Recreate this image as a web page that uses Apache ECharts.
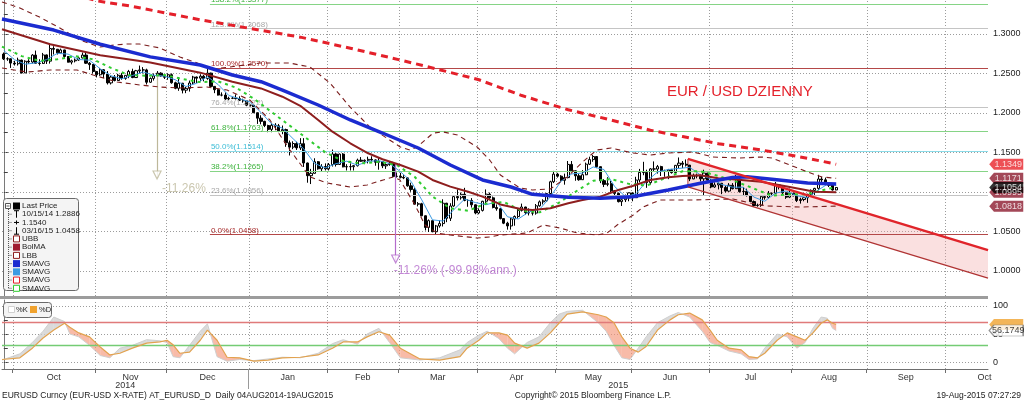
<!DOCTYPE html>
<html><head><meta charset="utf-8"><title>EUR/USD</title>
<script src="https://cdn.jsdelivr.net/npm/echarts@6.0.0/dist/echarts.min.js"></script>
<style>html,body{margin:0;padding:0;background:#fff;overflow:hidden}#chart{width:1024px;height:401px}</style>
</head><body><div id="chart"></div><script>
// ---------- DATA ----------
const firstDay = [2014, 8, 26];   // 26 Sep 2014, first visible trading day
const dayCount = 276;             // weekdays shown on the axis
const monthNames = ['Jan','Feb','Mar','Apr','May','Jun','Jul','Aug','Sep','Oct','Nov','Dec'];
const yearLabels = ['2014','2015'];

const priceOpen = [1.2745,1.2685,1.2686,1.2631,1.2623,1.2670,1.2507,1.2655,1.2645,1.2733,
1.2629,1.2627,1.2735,1.2656,1.2816,1.2807,1.2761,1.2798,1.2715,1.2643,
1.2660,1.2670,1.2697,1.2733,1.2630,1.2612,1.2525,1.2483,1.2547,1.2492,
1.2380,1.2454,1.2410,1.2477,1.2437,1.2476,1.2525,1.2448,1.2534,1.2545,
1.2545,1.2389,1.2437,1.2469,1.2504,1.2469,1.2452,1.2484,1.2382,1.2312,
1.2376,1.2288,1.2311,1.2379,1.2455,1.2440,1.2465,1.2437,1.2504,1.2336,
1.2294,1.2226,1.2226,1.2176,1.2185,1.2187,1.2181,1.2160,1.2153,1.2098,
1.2098,1.2002,1.1933,1.1893,1.1840,1.1791,1.1843,1.1836,1.1772,1.1788,
1.1621,1.1566,1.1612,1.1556,1.1610,1.1365,1.1204,1.1234,1.1381,1.1291,
1.1320,1.1291,1.1345,1.1479,1.1346,1.1478,1.1316,1.1319,1.1318,1.1331,
1.1401,1.1388,1.1399,1.1411,1.1404,1.1375,1.1383,1.1329,1.1345,1.1360,
1.1195,1.1196,1.1183,1.1176,1.1075,1.1030,1.0843,1.0848,1.0696,1.0548,
1.0634,1.0494,1.0567,1.0597,1.0855,1.0664,1.0820,1.0939,1.0924,1.0968,
1.0890,1.0890,1.0835,1.0731,1.0764,1.0880,1.0970,1.0923,1.0801,1.0785,
1.0660,1.0602,1.0567,1.0656,1.0687,1.0764,1.0807,1.0736,1.0732,1.0730,
1.0822,1.0872,1.0885,1.0978,1.1127,1.1224,1.1198,1.1145,1.1180,1.1347,
1.1266,1.1202,1.1153,1.1216,1.1350,1.1408,1.1447,1.1318,1.1141,1.1094,
1.1103,1.1013,1.0980,1.0875,1.0899,1.0922,1.0986,1.0925,1.1149,1.1245,
1.1244,1.1116,1.1290,1.1288,1.1319,1.1260,1.1262,1.1279,1.1243,1.1335,
1.1363,1.1349,1.1338,1.1163,1.1200,1.1201,1.1164,1.1237,1.1147,1.1061,
1.1087,1.1108,1.1055,1.1009,1.1083,1.1039,1.1160,1.1002,1.1005,1.0952,
1.0876,1.0826,1.0829,1.0938,1.0929,1.0980,1.0981,1.1087,1.1062,1.0987,
1.0932,1.0982,1.0954,1.0889,1.0902,1.0925,1.0967,1.1018,1.1043,1.1162,
1.1151,1.1106,1.1083,1.1023];
const priceHigh = [1.2765,1.2705,1.2690,1.2660,1.2700,1.2675,1.2667,1.2680,1.2745,1.2790,
1.2680,1.2760,1.2740,1.2886,1.2845,1.2810,1.2815,1.2800,1.2720,1.2675,
1.2690,1.2710,1.2765,1.2770,1.2645,1.2620,1.2530,1.2570,1.2555,1.2530,
1.2470,1.2480,1.2495,1.2505,1.2480,1.2545,1.2560,1.2545,1.2600,1.2580,
1.2560,1.2450,1.2500,1.2530,1.2515,1.2490,1.2500,1.2500,1.2395,1.2455,
1.2380,1.2330,1.2410,1.2470,1.2460,1.2490,1.2480,1.2570,1.2510,1.2340,
1.2300,1.2260,1.2260,1.2205,1.2200,1.2235,1.2210,1.2180,1.2160,1.2110,
1.2100,1.2005,1.1970,1.1900,1.1850,1.1870,1.1870,1.1860,1.1840,1.1800,
1.1650,1.1640,1.1635,1.1680,1.1680,1.1370,1.1290,1.1425,1.1390,1.1350,
1.1360,1.1365,1.1535,1.1490,1.1485,1.1490,1.1350,1.1360,1.1340,1.1420,
1.1440,1.1410,1.1445,1.1450,1.1410,1.1430,1.1390,1.1370,1.1390,1.1380,
1.1245,1.1240,1.1210,1.1185,1.1115,1.1050,1.0870,1.0860,1.0700,1.0650,
1.0640,1.0580,1.0640,1.0905,1.0860,1.0855,1.0950,1.1030,1.0990,1.1050,
1.0905,1.0920,1.0840,1.0790,1.0885,1.1030,1.0990,1.0940,1.0840,1.0790,
1.0665,1.0620,1.0670,1.0700,1.0790,1.0850,1.0810,1.0790,1.0770,1.0845,
1.0890,1.0905,1.0985,1.1140,1.1265,1.1240,1.1210,1.1230,1.1390,1.1390,
1.1270,1.1230,1.1275,1.1370,1.1445,1.1467,1.1450,1.1320,1.1160,1.1185,
1.1140,1.1020,1.0990,1.0905,1.0965,1.0990,1.0990,1.1190,1.1290,1.1380,
1.1280,1.1300,1.1385,1.1340,1.1330,1.1280,1.1290,1.1290,1.1340,1.1435,
1.1390,1.1410,1.1340,1.1230,1.1230,1.1220,1.1280,1.1240,1.1160,1.1120,
1.1120,1.1110,1.1080,1.1110,1.1110,1.1215,1.1170,1.1060,1.1040,1.0960,
1.0890,1.0850,1.0945,1.0960,1.1010,1.0990,1.1125,1.1090,1.1070,1.0990,
1.1040,1.0990,1.0960,1.0925,1.0930,1.0975,1.1030,1.1050,1.1215,1.1190,
1.1180,1.1115,1.1090,1.1060];
const priceLow = [1.2670,1.2660,1.2570,1.2600,1.2600,1.2500,1.2505,1.2620,1.2625,1.2620,
1.2600,1.2620,1.2620,1.2625,1.2740,1.2740,1.2750,1.2690,1.2640,1.2615,
1.2640,1.2660,1.2690,1.2620,1.2545,1.2500,1.2450,1.2470,1.2440,1.2360,
1.2360,1.2400,1.2405,1.2420,1.2420,1.2440,1.2440,1.2445,1.2500,1.2500,
1.2360,1.2380,1.2410,1.2450,1.2460,1.2430,1.2420,1.2370,1.2300,1.2280,
1.2247,1.2250,1.2270,1.2360,1.2380,1.2400,1.2400,1.2420,1.2330,1.2250,
1.2220,1.2210,1.2165,1.2160,1.2175,1.2170,1.2150,1.2130,1.2085,1.2080,
1.2000,1.1860,1.1855,1.1820,1.1755,1.1755,1.1780,1.1755,1.1730,1.1570,
1.1460,1.1540,1.1530,1.1530,1.1315,1.1115,1.1098,1.1230,1.1280,1.1260,
1.1270,1.1270,1.1320,1.1320,1.1340,1.1310,1.1270,1.1270,1.1270,1.1320,
1.1380,1.1350,1.1360,1.1385,1.1330,1.1280,1.1300,1.1290,1.1330,1.1185,
1.1180,1.1170,1.1160,1.1065,1.1000,1.0840,1.0815,1.0690,1.0510,1.0490,
1.0487,1.0458,1.0545,1.0560,1.0615,1.0630,1.0810,1.0890,1.0900,1.0880,
1.0810,1.0800,1.0715,1.0715,1.0750,1.0840,1.0910,1.0790,1.0760,1.0650,
1.0590,1.0520,1.0520,1.0570,1.0660,1.0750,1.0710,1.0700,1.0700,1.0710,
1.0810,1.0840,1.0870,1.0970,1.1110,1.1180,1.1130,1.1090,1.1170,1.1250,
1.1140,1.1140,1.1150,1.1210,1.1340,1.1380,1.1300,1.1110,1.1060,1.1070,
1.0990,1.0950,1.0865,1.0820,1.0870,1.0880,1.0880,1.0920,1.1120,1.1210,
1.1050,1.1090,1.1260,1.1230,1.1200,1.1190,1.1160,1.1230,1.1215,1.1300,
1.1300,1.1320,1.1135,1.1160,1.1170,1.1130,1.0955,1.1120,1.1045,1.1050,
1.1030,1.0970,1.0990,1.1000,1.1030,1.1035,1.0990,1.0950,1.0940,1.0870,
1.0810,1.0810,1.0810,1.0900,1.0910,1.0945,1.0970,1.1030,1.0960,1.0910,
1.0920,1.0940,1.0870,1.0850,1.0880,1.0860,1.0950,1.0960,1.1020,1.1120,
1.1090,1.1060,1.1015,1.1020];
const priceClose = [1.2685,1.2686,1.2631,1.2623,1.2670,1.2507,1.2655,1.2645,1.2733,1.2629,
1.2627,1.2735,1.2656,1.2816,1.2807,1.2761,1.2798,1.2715,1.2643,1.2660,
1.2670,1.2697,1.2733,1.2630,1.2612,1.2525,1.2483,1.2547,1.2492,1.2380,
1.2454,1.2410,1.2477,1.2437,1.2476,1.2525,1.2448,1.2534,1.2545,1.2545,
1.2389,1.2437,1.2469,1.2504,1.2469,1.2452,1.2484,1.2382,1.2312,1.2376,
1.2288,1.2311,1.2379,1.2455,1.2440,1.2465,1.2437,1.2504,1.2336,1.2294,
1.2226,1.2226,1.2176,1.2185,1.2187,1.2181,1.2160,1.2153,1.2098,1.2098,
1.2002,1.1933,1.1893,1.1840,1.1791,1.1843,1.1836,1.1772,1.1788,1.1621,
1.1566,1.1612,1.1556,1.1610,1.1365,1.1204,1.1234,1.1381,1.1291,1.1320,
1.1291,1.1345,1.1479,1.1346,1.1478,1.1316,1.1319,1.1318,1.1331,1.1401,
1.1388,1.1399,1.1411,1.1404,1.1375,1.1383,1.1329,1.1345,1.1360,1.1195,
1.1196,1.1183,1.1176,1.1075,1.1030,1.0843,1.0848,1.0696,1.0548,1.0634,
1.0494,1.0567,1.0597,1.0855,1.0664,1.0820,1.0939,1.0924,1.0968,1.0890,
1.0890,1.0835,1.0731,1.0764,1.0880,1.0970,1.0923,1.0801,1.0785,1.0660,
1.0602,1.0567,1.0656,1.0687,1.0764,1.0807,1.0736,1.0732,1.0730,1.0822,
1.0872,1.0885,1.0978,1.1127,1.1224,1.1198,1.1145,1.1180,1.1347,1.1266,
1.1202,1.1153,1.1216,1.1350,1.1408,1.1447,1.1318,1.1141,1.1094,1.1103,
1.1013,1.0980,1.0875,1.0899,1.0922,1.0986,1.0925,1.1149,1.1245,1.1244,
1.1116,1.1290,1.1288,1.1319,1.1260,1.1262,1.1279,1.1243,1.1335,1.1363,
1.1349,1.1338,1.1163,1.1200,1.1201,1.1164,1.1237,1.1147,1.1061,1.1087,
1.1108,1.1055,1.1009,1.1083,1.1039,1.1160,1.1002,1.1005,1.0952,1.0876,
1.0826,1.0829,1.0938,1.0929,1.0980,1.0981,1.1087,1.1062,1.0987,1.0932,
1.0982,1.0954,1.0889,1.0902,1.0925,1.0967,1.1018,1.1043,1.1162,1.1151,
1.1106,1.1083,1.1023,1.1054];

// indicator lines: [trading-day index, value]
const sma200 = [[20,1.350],[26,1.342],[36,1.335],[46,1.326],[55,1.318],[69,1.307],[83,1.296],[97,1.282],[111,1.267],[120,1.257],[133,1.242],[145,1.222],[158,1.204],[170,1.191],[181,1.178],[190,1.170],[200,1.161],[212,1.153],[225,1.1425],[233,1.1349]];
const smaBlue = [[-0.5,1.319],[14,1.305],[27,1.287],[41,1.271],[55,1.2607],[64,1.248],[72,1.2395],[78,1.229],[88,1.210],[97,1.191],[106,1.1745],[116,1.1555],[125,1.134],[134,1.115],[142,1.1061],[148,1.0968],[158,1.093],[167,1.0918],[176,1.0938],[186,1.1023],[195,1.1108],[204,1.118],[208,1.119],[215,1.116],[225,1.111],[233,1.110]];
const bolMA = [[-0.5,1.306],[13,1.287],[27,1.273],[41,1.264],[55,1.251],[64,1.2395],[72,1.231],[78,1.2205],[83,1.209],[88,1.191],[92,1.1762],[97,1.1615],[102,1.1488],[106,1.1412],[111,1.134],[116,1.1255],[120,1.115],[125,1.1065],[130,1.1001],[134,1.0938],[139,1.084],[145,1.0778],[148,1.077],[153,1.0791],[158,1.0854],[162,1.0896],[167,1.0938],[172,1.1023],[176,1.1074],[181,1.115],[186,1.1184],[190,1.12],[195,1.1209],[200,1.1171],[204,1.1158],[212,1.1128],[220,1.106],[227,1.100],[233,1.0995]];
const upperBand = [[-0.5,1.3406],[4.5,1.333],[10,1.3215],[15.7,1.3076],[21.3,1.2924],[26.9,1.2835],[31,1.2861],[34.5,1.2873],[38,1.2873],[43.7,1.2823],[49.3,1.2708],[54.9,1.262],[58.6,1.2556],[63.3,1.2582],[71.7,1.2632],[80,1.2632],[85.7,1.2582],[91.3,1.2379],[96.9,1.2075],[102.5,1.1821],[108,1.1657],[111,1.1568],[113.7,1.153],[115.7,1.1568],[120.2,1.1745],[123,1.1758],[127,1.172],[132.5,1.1568],[136,1.1403],[139,1.1213],[144.5,1.1048],[148,1.1023],[153,1.1036],[157.7,1.1188],[162,1.1378],[166,1.153],[170,1.1555],[176,1.1492],[181,1.1466],[186,1.1492],[193,1.1504],[198.5,1.1441],[206,1.1428],[212,1.1441],[215,1.1428],[220,1.134],[225,1.1251],[229,1.1188],[233,1.1171]];
const lowerBand = [[-0.5,1.2569],[6.5,1.2518],[13,1.2544],[20.5,1.2544],[25,1.248],[31.7,1.2392],[38.1,1.2354],[43.7,1.2328],[49.3,1.2316],[56.9,1.2328],[62.5,1.229],[68.9,1.2163],[74.5,1.191],[80.1,1.153],[85.7,1.1188],[90.5,1.1112],[96.9,1.1061],[101.7,1.1086],[106.2,1.115],[109,1.1188],[110.9,1.115],[115.1,1.0833],[117.9,1.0579],[121.3,1.0478],[124.9,1.0452],[132.5,1.0414],[136.1,1.0427],[138.9,1.0452],[146.5,1.0478],[151,1.0579],[155.7,1.0541],[160.5,1.0478],[166.1,1.0452],[168.9,1.0478],[171.7,1.0579],[176.2,1.0706],[179,1.0807],[183.7,1.0896],[193,1.0896],[204.1,1.0909],[208.9,1.0858],[213.7,1.082],[222.9,1.0807],[233,1.0818]];
const smaGreen = [[-0.5,1.284],[5,1.272],[10,1.266],[15,1.268],[20,1.272],[25,1.268],[30,1.257],[35,1.248],[40,1.247],[45,1.248],[50,1.243],[55,1.239],[60,1.240],[65,1.232],[70,1.218],[75,1.201],[80,1.184],[85,1.167],[90,1.150],[95,1.139],[100,1.136],[105,1.138],[110,1.134],[115,1.119],[120,1.094],[125,1.079],[130,1.076],[135,1.085],[140,1.087],[145,1.076],[150,1.074],[155,1.085],[160,1.100],[165,1.114],[170,1.116],[175,1.110],[180,1.108],[185,1.117],[190,1.126],[195,1.126],[200,1.120],[205,1.113],[210,1.104],[215,1.095],[220,1.097],[225,1.097],[230,1.103],[233,1.106]];
const smaLightBlue = [[0,1.279],[3,1.2674],[6,1.2617],[9,1.2634],[12,1.2676],[15,1.2755],[18,1.2745],[21,1.2677],[24,1.2668],[27,1.2559],[30,1.2471],[33,1.2432],[36,1.2473],[39,1.2519],[42,1.2477],[45,1.2466],[48,1.2420],[51,1.2334],[54,1.2375],[57,1.2460],[60,1.2359],[63,1.2221],[66,1.2178],[69,1.2138],[72,1.2005],[75,1.1860],[78,1.1806],[81,1.1672],[84,1.1542],[87,1.1359],[90,1.1303],[93,1.1356],[96,1.1388],[99,1.1337],[102,1.1386],[105,1.1394],[108,1.1358],[111,1.1256],[114,1.1132],[117,1.0898],[120,1.0644],[123,1.0629],[126,1.0775],[129,1.0908],[132,1.0863],[135,1.0836],[138,1.0872],[141,1.0683],[144,1.0655],[147,1.0745],[150,1.0778],[153,1.0937],[156,1.1134],[159,1.1227],[162,1.1237],[165,1.1315],[168,1.1282],[171,1.1066],[174,1.0938],[177,1.0976],[180,1.1136],[183,1.1251],[186,1.1282],[189,1.1296],[192,1.1310],[195,1.1213],[198,1.1162],[201,1.1092],[204,1.1059],[207,1.1058],[210,1.0932],[213,1.0880],[216,1.0983],[219,1.1010],[222,1.0949],[225,1.0927],[228,1.1023],[231,1.1109],[233,1.1083]];

// trend channel (index, upper, lower)
const channelIdx = [191.5, 275.5];
const channelUpper = [1.1416, 1.0260];
const channelLower = [1.1061, 0.9905];

// Fibonacci retracement
const fibPct = ['138.2%','123.6%','100.0%','76.4%','61.8%','50.0%','38.2%','23.6%','0.0%'];
const fibLevels = [1.3377,1.3068,1.2570,1.2072,1.1763,1.1514,1.1265,1.0956,1.0458];
const fibStartIdx = 57.7;

// measured moves
const moveIdx = [42.9, 109.7];
const moveFrom = [1.248, 1.1365];
const moveTo = [1.1175, 1.011];
const moveText = ['-11.26%', '-11.26% (-99.98%ann.)'];

// last-value tags on the price axis
const tagValues = [1.0995, 1.1171, 1.1054, 1.1349, 1.0818];

// price axis labels / ticks
const priceLabels = [1.00,1.05,1.10,1.15,1.20,1.25,1.30];
const priceTicks = [1.000,1.025,1.050,1.075,1.100,1.125,1.150,1.175,1.200,1.225,1.250,1.275,1.300,1.325];

// stochastic (index, %K, %D)
const stochIdx = [-0.5,4.5,8,11,14,17,18.5,21,24,27,29.7,32.5,36,40,43.7,45.7,47.4,49.3,52,55,57,59.7,62.5,66,70,74,78,83,88,92,95,99,101.7,105,108,111,116.5,122,127.7,129.7,133,135.3,138.6,141,143,146.5,149.8,153,155.4,157.7,162,166.4,168.6,170.8,173,175.3,177.6,179.8,183,186.5,188.8,192,195.5,197.7,199.7,203,206.4,208.6,211,213,216.5,219.3,222,224.3,226.5,228.8,230.5,232,233];
const stochD = [5,8,25,43,57,69,62,52,45,27,13,16,25,34,36,39,31,16,18,39,57,39,9,8,2,4,8,9,13,25,36,36,45,54,48,25,6,4,10,25,39,52,52,48,34,25,34,52,69,85,89,84,80,70,45,25,18,28,57,75,84,87,75,57,39,25,22,10,8,16,39,52,45,39,52,69,75,69,67];
const stochK = [4,15,35,55,80,72,50,45,30,12,8,25,30,40,38,35,10,8,30,55,68,10,2,5,3,6,9,8,16,33,40,32,50,60,35,8,4,8,22,35,48,55,42,25,15,35,45,70,85,90,92,70,55,30,8,5,25,45,70,82,88,80,55,35,30,20,15,5,6,25,50,45,25,35,60,80,78,60,56.1749];
const stochLevels = [70, 30];
const stochLabels = [0, 50, 100];
const stochTicks = [0, 25, 50, 75, 100];
const stochTags = [67, 56.1749];

// ---------- CALENDAR ----------
const allDays = [];
(function(){
  const d = new Date(Date.UTC(firstDay[0], firstDay[1], firstDay[2]));
  while (allDays.length < dayCount + 30) {
    const w = d.getUTCDay();
    if (w !== 0 && w !== 6) allDays.push({y:d.getUTCFullYear(), m:d.getUTCMonth(), s:d.toISOString().slice(0,10)});
    d.setUTCDate(d.getUTCDate() + 1);
  }
})();
const dates = allDays.slice(0, dayCount).map(o => o.s);
const monthStarts = [];
for (let i = 1; i < allDays.length; i++) if (allDays[i].m !== allDays[i-1].m) monthStarts.push(i);
const monthBounds = monthStarts.filter(i => i < dayCount).map(i => i - 0.5);
const monthMid = [], monthMidName = [];
for (let k = 0; k < monthStarts.length - 1; k++) {
  if (monthStarts[k] >= dayCount) break;
  monthMid.push((monthStarts[k] + monthStarts[k+1]) / 2 - 0.5);
  monthMidName.push(monthNames[allDays[monthStarts[k]].m]);
}
const yearStart = monthStarts.find(i => allDays[i].y === 2015);
const yearMid = [(-0.5 + yearStart - 0.5) / 2, (yearStart - 0.5 + dayCount - 0.5) / 2];

// ---------- STYLE ----------
const FONT = 'Liberation Sans';
const fibLineColor = ['#86d486','#c4c4c4','#b44848','#c4c4c4','#86d486','#8adbe8','#86d486','#c4c4c4','#b44848'];
const fibTextColor = ['#3fb43f','#a8a8a8','#a82c2c','#a8a8a8','#3fb43f','#3cbdd6','#3fb43f','#a8a8a8','#a82c2c'];
const moveColor = ['#bdb89a', '#b46ccc'];
const tagColor = ['#8c1a2e','#8c1a2e','#000000','#e8232a','#8c1a2e'];
const TAG_X = 280.6;
const GRID_STROKE = '#9c9c9c';
const GRID_DASH = [1, 2];

function lineSeries(data, color, width, type, z) {
  return {type:'line', xAxisIndex:1, yAxisIndex:0, data:data, showSymbol:false, symbol:'none',
    lineStyle:{color:color, width:width, type:type}, z:z, silent:true, clip:true};
}

const chart = echarts.init(document.getElementById('chart'), null, {renderer:'canvas'});

const stochSegs = [];
for (let i = 0; i < stochIdx.length - 1; i++)
  stochSegs.push([stochIdx[i], stochK[i], stochD[i], stochIdx[i+1], stochK[i+1], stochD[i+1]]);

// grid lines drawn through the library's own scales (custom series, crisp pixels)
function gridRenderer(hVals, vVals, yMin, yMax) {
  return function(params, api) {
    if (params.dataIndex !== 0) return null;
    const ch = [];
    hVals.forEach(v => {
      const a = api.coord([-0.5, v]), b = api.coord([275.5, v]);
      const y = Math.round(a[1]) + 0.5;
      ch.push({type:'line', shape:{x1:a[0], y1:y, x2:b[0], y2:y}, style:{stroke:GRID_STROKE, lineWidth:1, lineDash:GRID_DASH}});
    });
    vVals.forEach(v => {
      const a = api.coord([v, yMin]), b = api.coord([v, yMax]);
      const x = Math.round(a[0]) + 0.5;
      ch.push({type:'line', shape:{x1:x, y1:a[1], x2:x, y2:b[1]}, style:{stroke:GRID_STROKE, lineWidth:1, lineDash:GRID_DASH}});
    });
    return {type:'group', children:ch};
  };
}

const option = {
  animation:false,
  backgroundColor:'#ffffff',
  textStyle:{fontFamily:FONT},
  grid:[
    {left:2, right:36, top:0, height:296, containLabel:false, outerBoundsMode:'none'},
    {left:2, right:36, top:300, height:69, containLabel:false, outerBoundsMode:'none'}
  ],
  xAxis:[
    {type:'category', gridIndex:0, data:dates, boundaryGap:true, show:false},
    {type:'value', gridIndex:0, min:-0.5, max:275.5, show:false},
    {type:'value', gridIndex:1, min:-0.5, max:275.5, position:'bottom',
      axisLine:{show:true, onZero:false, lineStyle:{color:'#6e6e6e', width:1}},
      axisTick:{show:true, customValues:monthBounds, length:4, lineStyle:{color:'#6e6e6e'}},
      axisLabel:{show:true, customValues:monthMid, margin:4, fontSize:9, color:'#333',
        formatter:function(v){ for (let k=0;k<monthMid.length;k++) if (Math.abs(monthMid[k]-v)<1e-6) return monthMidName[k]; return ''; }},
      splitLine:{show:false}},
    {type:'value', gridIndex:1, min:-0.5, max:275.5, position:'bottom',
      axisLine:{show:false, onZero:false},
      axisTick:{show:true, customValues:[yearStart-0.5], length:20, lineStyle:{color:'#9a9a9a'}},
      axisLabel:{show:true, customValues:yearMid, margin:12, fontSize:9, color:'#333',
        formatter:function(v){ return Math.abs(v-yearMid[0])<1e-6 ? yearLabels[0] : yearLabels[1]; }},
      splitLine:{show:false}}
  ],
  yAxis:[
    {type:'value', gridIndex:0, position:'right', min:0.9679, max:1.3431,
      axisLine:{show:true, lineStyle:{color:'#7a7a7a'}},
      axisTick:{show:true, customValues:priceTicks, length:4, lineStyle:{color:'#404040'}},
      axisLabel:{show:true, customValues:priceLabels, margin:5, fontSize:9, color:'#222',
        formatter:function(v){ return v.toFixed(4); }},
      splitLine:{show:false}},
    {type:'value', gridIndex:1, position:'right', min:-11.8, max:110.1,
      axisLine:{show:true, lineStyle:{color:'#7a7a7a'}},
      axisTick:{show:true, customValues:stochTicks, length:4, lineStyle:{color:'#404040'}},
      axisLabel:{show:true, customValues:stochLabels, margin:5, fontSize:9, color:'#222'},
      splitLine:{show:false}}
  ],
  series:[
    // grid lines (main & stochastic)
    {type:'custom', xAxisIndex:1, yAxisIndex:0, z:1, silent:true, data:[[0, 1.1]],
      renderItem:gridRenderer(priceLabels, monthBounds, 0.9679, 1.3431)},
    {type:'custom', xAxisIndex:2, yAxisIndex:1, z:1, silent:true, data:[[0, 50]],
      renderItem:gridRenderer(stochLabels, monthBounds, -11.8, 110.1)},
    // channel fill
    {type:'custom', xAxisIndex:1, yAxisIndex:0, z:2, silent:true,
      data:[[channelIdx[0],channelUpper[0],channelLower[0],channelIdx[1],channelUpper[1],channelLower[1]]],
      encode:{x:[0,3], y:[1,2,4,5]},
      renderItem:function(p, api){
        const a=api.coord([api.value(0),api.value(1)]), b=api.coord([api.value(3),api.value(4)]);
        const c=api.coord([api.value(3),api.value(5)]), d=api.coord([api.value(0),api.value(2)]);
        return {type:'group', children:[
          {type:'polygon', shape:{points:[a,b,c,d]}, style:{fill:'rgba(238,160,160,0.32)'}},
          {type:'line', shape:{x1:a[0],y1:a[1],x2:d[0],y2:d[1]}, style:{stroke:'#b03434', lineWidth:1}}
        ]};
      }},
    // fib levels
    {type:'line', xAxisIndex:1, yAxisIndex:0, data:[], silent:true, z:3,
      markLine:{silent:true, symbol:'none', animation:false,
        data: fibLevels.map((v,i)=>[
          {coord:[fibStartIdx, v], lineStyle:{color:fibLineColor[i], width:1.2, type:'solid'},
           label:{show:true, position:'insideStartTop', distance:[1,0], formatter:fibPct[i]+'('+v.toFixed(4)+')',
             color:fibTextColor[i], fontSize:8, fontFamily:FONT}},
          {coord:[275.5, v]}])}},
    // price bars
    {type:'candlestick', xAxisIndex:0, yAxisIndex:0, silent:true, z:4, barWidth:2.6,
      data: priceClose.map((c,i)=>[priceOpen[i], c, priceLow[i], priceHigh[i]]),
      itemStyle:{color:'#ffffff', color0:'#000000', borderColor:'#000000', borderColor0:'#000000', borderWidth:1}},
    lineSeries(smaLightBlue, '#3d9be2', 1, 'solid', 5),
    lineSeries(smaGreen, '#2fcc2f', 2, [3,4], 6),
    lineSeries(upperBand, '#7a1c1c', 1.1, [5,4], 6),
    lineSeries(lowerBand, '#7a1c1c', 1.1, [5,4], 6),
    lineSeries(bolMA, '#8e1e1e', 2, 'solid', 7),
    lineSeries(smaBlue, '#1b2bd0', 3.5, 'solid', 8),
    lineSeries(sma200, '#e4202a', 3, [7,5], 9),
    lineSeries([[channelIdx[0],channelUpper[0]],[channelIdx[1],channelUpper[1]]], '#e0242a', 2.4, 'solid', 9),
    lineSeries([[channelIdx[0],channelLower[0]],[channelIdx[1],channelLower[1]]], '#b03434', 1.3, 'solid', 9),
    // measured move arrows
    {type:'line', xAxisIndex:1, yAxisIndex:0, data:[], silent:true, z:10,
      markLine:{silent:true, symbol:'none', animation:false, label:{show:false},
        data: moveIdx.map((x,i)=>[{coord:[x, moveFrom[i]], lineStyle:{color:moveColor[i], width:1.2, type:'solid'}},{coord:[x, moveTo[i]]}])}},
    {type:'scatter', xAxisIndex:1, yAxisIndex:0, silent:true, z:10, symbol:'triangle', symbolRotate:180, symbolSize:[8,8], symbolOffset:[0,-3],
      data: moveIdx.map((x,i)=>({value:[x, moveTo[i]], itemStyle:{color:'#ffffff', borderColor:moveColor[i], borderWidth:1.2},
        label:{show:true, position:'bottom', distance:2, align:'left', offset: i===0 ? [5,1] : [-2,-1],
          formatter:moveText[i], color:moveColor[i], fontSize:12, fontFamily:FONT}}))},
    // value tags
    {type:'scatter', xAxisIndex:1, yAxisIndex:0, silent:true, z:20, clip:false,
      symbol:'path://M0,6 L5,0 L36,0 L36,12 L5,12 Z', symbolSize:[34,11],
      data: tagValues.map((v,i)=>({value:[TAG_X, v], itemStyle:{color:tagColor[i]},
        label:{show:true, position:'inside', offset:[2,0], formatter:v.toFixed(4), color:'#ffffff', fontSize:9, fontFamily:FONT}}))},
    // ---- stochastic panel ----
    {type:'line', xAxisIndex:2, yAxisIndex:1, data:[], silent:true, z:2,
      markLine:{silent:true, symbol:'none', animation:false, label:{show:false},
        data:[{yAxis:stochLevels[0], lineStyle:{color:'#e07a7a', width:1.3, type:'solid'}},
              {yAxis:stochLevels[1], lineStyle:{color:'#74cc74', width:1.3, type:'solid'}}]}},
    {type:'custom', xAxisIndex:2, yAxisIndex:1, z:3, silent:true, data:stochSegs, encode:{x:[0,3], y:[1,2,4,5]},
      renderItem:function(p, api){
        const x0=api.value(0),k0=api.value(1),d0=api.value(2),x1=api.value(3),k1=api.value(4),d1=api.value(5);
        const e0=k0-d0, e1=k1-d1;
        const col=function(e){ return e>0 ? 'rgba(205,205,205,0.75)' : 'rgba(244,150,122,0.65)'; };
        const P=function(x,y){ return api.coord([x,y]); };
        if (e0*e1 < 0) {
          const t=e0/(e0-e1), xm=x0+t*(x1-x0), ym=k0+t*(k1-k0);
          return {type:'group', children:[
            {type:'polygon', shape:{points:[P(x0,k0),P(xm,ym),P(x0,d0)]}, style:{fill:col(e0)}},
            {type:'polygon', shape:{points:[P(xm,ym),P(x1,k1),P(x1,d1)]}, style:{fill:col(e1)}}]};
        }
        return {type:'polygon', shape:{points:[P(x0,k0),P(x1,k1),P(x1,d1),P(x0,d0)]}, style:{fill:col(e0+e1)}};
      }},
    {type:'line', xAxisIndex:2, yAxisIndex:1, data:stochIdx.map((x,i)=>[x,stochK[i]]), showSymbol:false, symbol:'none',
      lineStyle:{color:'#cfcfcf', width:1}, z:4, silent:true},
    {type:'line', xAxisIndex:2, yAxisIndex:1, data:stochIdx.map((x,i)=>[x,stochD[i]]), showSymbol:false, symbol:'none',
      lineStyle:{color:'#e2a24e', width:1.2}, z:5, silent:true},
    {type:'scatter', xAxisIndex:2, yAxisIndex:1, silent:true, z:20, clip:false,
      symbol:'path://M0,6 L5,0 L36,0 L36,12 L5,12 Z', symbolSize:[34,11],
      data:[
        {value:[TAG_X, stochTags[0]], itemStyle:{color:'#f0a22e'}, label:{show:false}},
        {value:[TAG_X, stochTags[1]], itemStyle:{color:'#ffffff', borderColor:'#7a7a7a', borderWidth:1},
          label:{show:true, position:'inside', offset:[2,0], formatter:stochTags[1].toFixed(4), color:'#111', fontSize:9, fontFamily:FONT}}]}
  ],
  graphic:[]
};

// ---------- decorations (legend boxes, titles, footers) ----------
const g = [];
g.push({type:'rect', shape:{x:0, y:296, width:988, height:3}, style:{fill:'#9c9c9c'}, z:50, silent:true});
g.push({type:'text', x:667, y:92, style:{text:'EUR / USD DZIENNY', fill:'#e4202a', font:'15px '+FONT, verticalAlign:'middle'}, z:50});
// main legend
g.push({type:'rect', shape:{x:3.5, y:198.5, width:75, height:92, r:3}, style:{fill:'#f4f4f4', stroke:'#6a6a6a', lineWidth:1}, z:50});
const legRows = ['Last Price','10/15/14 1.2886','1.1540','03/16/15 1.0458','UBB','BolMA','LBB','SMAVG','SMAVG','SMAVG','SMAVG'];
const legIcon = [['fill','#000'],['hi','#000'],['plus','#000'],['lo','#000'],['out','#8c1c1c'],['fill','#a01c30'],['out','#8c1c1c'],['fill','#1b2bd0'],['fill','#3d9be2'],['out','#e4202a'],['out','#2fcc2f']];
g.push({type:'line', shape:{x1:8.5,y1:209,x2:8.5,y2:288.5}, style:{stroke:'#555', lineWidth:1, lineDash:[1,1]}, z:51});
g.push({type:'rect', shape:{x:5.5, y:203.5, width:5, height:5}, style:{fill:'#fff', stroke:'#555', lineWidth:1}, z:51});
g.push({type:'line', shape:{x1:6.5,y1:206,x2:9.5,y2:206}, style:{stroke:'#555', lineWidth:1}, z:52});
legRows.forEach((t,i)=>{
  const cy = 206 + i*8.23;
  if (i>0) g.push({type:'line', shape:{x1:8.5,y1:cy,x2:12,y2:cy}, style:{stroke:'#555', lineWidth:1, lineDash:[1,1]}, z:51});
  const k = legIcon[i][0], c = legIcon[i][1];
  if (k==='fill') g.push({type:'rect', shape:{x:13, y:cy-3.5, width:7, height:7}, style:{fill:c}, z:51});
  else if (k==='out') g.push({type:'rect', shape:{x:13.5, y:cy-3, width:6, height:6}, style:{fill:'#fff', stroke:c, lineWidth:1}, z:51});
  else if (k==='hi') { g.push({type:'line', shape:{x1:14,y1:cy-3.5,x2:19,y2:cy-3.5}, style:{stroke:c,lineWidth:1}, z:51}); g.push({type:'line', shape:{x1:16.5,y1:cy-3.5,x2:16.5,y2:cy+3.5}, style:{stroke:c,lineWidth:1}, z:51}); }
  else if (k==='lo') { g.push({type:'line', shape:{x1:14,y1:cy+3.5,x2:19,y2:cy+3.5}, style:{stroke:c,lineWidth:1}, z:51}); g.push({type:'line', shape:{x1:16.5,y1:cy-3.5,x2:16.5,y2:cy+3.5}, style:{stroke:c,lineWidth:1}, z:51}); }
  else if (k==='plus') { g.push({type:'line', shape:{x1:14,y1:cy,x2:19,y2:cy}, style:{stroke:c,lineWidth:1}, z:51}); g.push({type:'line', shape:{x1:16.5,y1:cy-2,x2:16.5,y2:cy+2}, style:{stroke:c,lineWidth:1}, z:51}); }
  g.push({type:'text', x:22, y:cy, style:{text:t, fill:'#1e1e1e', font:'8px '+FONT, verticalAlign:'middle'}, z:51});
});
// stochastic legend
g.push({type:'rect', shape:{x:3.5, y:302.5, width:48, height:15, r:3}, style:{fill:'#f4f4f4', stroke:'#6a6a6a', lineWidth:1}, z:50});
g.push({type:'rect', shape:{x:8.5, y:306.5, width:6, height:6}, style:{fill:'#ffffff', stroke:'#d0d0d0', lineWidth:1}, z:51});
g.push({type:'text', x:16, y:310, style:{text:'%K', fill:'#1e1e1e', font:'7.5px '+FONT, verticalAlign:'middle'}, z:51});
g.push({type:'rect', shape:{x:30, y:306, width:7, height:7}, style:{fill:'#f0a22e'}, z:51});
g.push({type:'text', x:39, y:310, style:{text:'%D', fill:'#1e1e1e', font:'7.5px '+FONT, verticalAlign:'middle'}, z:51});
// footer
g.push({type:'text', x:2, y:396, style:{text:'EURUSD Curncy (EUR-USD X-RATE) AT_EURUSD_D  Daily 04AUG2014-19AUG2015', fill:'#222', font:'8.5px '+FONT, verticalAlign:'middle'}, z:50});
g.push({type:'text', x:593, y:396, style:{text:'Copyright\u00a9 2015 Bloomberg Finance L.P.', fill:'#222', font:'8.5px '+FONT, verticalAlign:'middle', align:'center'}, z:50});
g.push({type:'text', x:1021, y:396, style:{text:'19-Aug-2015 07:27:29', fill:'#222', font:'8.5px '+FONT, verticalAlign:'middle', align:'right'}, z:50});
option.graphic = g;

chart.setOption(option);
</script></body></html>
